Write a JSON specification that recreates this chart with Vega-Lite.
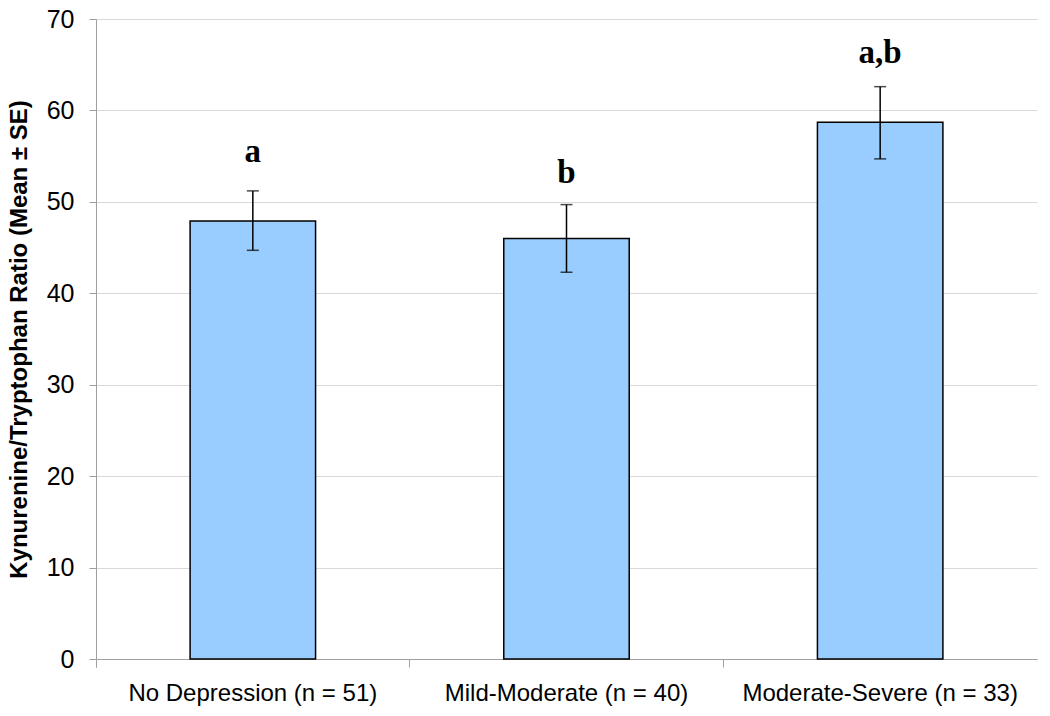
{
  "$schema": "https://vega.github.io/schema/vega-lite/v6.json",
  "width": 941,
  "height": 640,
  "autosize": {"type": "none"},
  "padding": {"left": 96, "top": 19, "right": 13, "bottom": 57},
  "background": "white",
  "config": {"view": {"stroke": null}},
  "data": {
    "values": [
      {"group": "No Depression (n = 51)", "mean": 47.9, "lo": 44.7, "hi": 51.2, "letter": "a", "letterY": 55.4},
      {"group": "Mild-Moderate (n = 40)", "mean": 46.0, "lo": 42.3, "hi": 49.7, "letter": "b", "letterY": 53.2},
      {"group": "Moderate-Severe (n = 33)", "mean": 58.7, "lo": 54.7, "hi": 62.6, "letter": "a,b", "letterY": 66.3}
    ]
  },
  "encoding": {
    "x": {
      "field": "group",
      "type": "nominal",
      "sort": null,
      "scale": {"paddingInner": 0, "paddingOuter": 0},
      "axis": {
        "title": null,
        "labelAngle": 0,
        "labelLimit": 0,
        "labelFont": "Liberation Sans",
        "labelFontSize": 24,
        "labelColor": "black",
        "labelPadding": 14,
        "domainColor": "#a0a0a0",
        "tickColor": "#a0a0a0",
        "tickSize": 8,
        "bandPosition": 0,
        "tickExtra": true,
        "grid": false
      }
    }
  },
  "layer": [
    {
      "mark": {"type": "bar", "width": {"band": 0.4}, "color": "#99ccff", "stroke": "black", "strokeWidth": 1.5},
      "encoding": {
        "y": {
          "field": "mean",
          "type": "quantitative",
          "title": "Kynurenine/Tryptophan Ratio (Mean ± SE)",
          "scale": {"domain": [0, 70], "nice": false},
          "axis": {
            "titleFont": "Liberation Sans",
            "titleFontSize": 24,
            "titleFontWeight": "bold",
            "titleColor": "black",
            "titleX": -77,
            "titleY": 320,
            "titleAngle": -90,
            "titleBaseline": "middle",
            "titleAlign": "center",
            "values": [0, 10, 20, 30, 40, 50, 60, 70],
            "labelFont": "Liberation Sans",
            "labelFontSize": 25,
            "labelColor": "black",
            "labelPadding": 15,
            "tickSize": 7,
            "tickColor": "#a0a0a0",
            "domainColor": "#a0a0a0",
            "gridColor": "#d9d9d9",
            "grid": true
          }
        }
      }
    },
    {
      "mark": {"type": "errorbar", "color": "black", "thickness": 1.5, "ticks": {"size": 12, "thickness": 1.5, "color": "black"}},
      "encoding": {
        "y": {"field": "lo", "type": "quantitative", "title": "Kynurenine/Tryptophan Ratio (Mean ± SE)"},
        "y2": {"field": "hi"}
      }
    },
    {
      "mark": {"type": "text", "font": "Liberation Serif", "fontSize": 33, "fontWeight": "bold", "color": "black", "baseline": "middle", "align": "center"},
      "encoding": {
        "y": {"field": "letterY", "type": "quantitative", "title": "Kynurenine/Tryptophan Ratio (Mean ± SE)"},
        "text": {"field": "letter"}
      }
    }
  ]
}
